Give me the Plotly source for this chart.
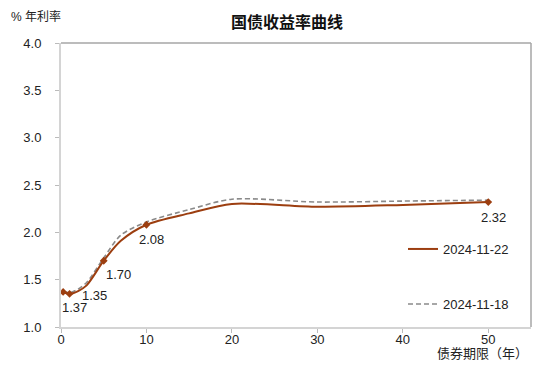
import plotly.graph_objects as go

# ---- data ----
tenors = [0.25, 1, 2, 3, 5, 7, 10, 15, 20, 30, 40, 50]
yield_1122 = [1.37, 1.35, 1.38, 1.44, 1.70, 1.91, 2.08, 2.20, 2.30, 2.27, 2.29, 2.32]
yield_1118 = [1.38, 1.36, 1.40, 1.47, 1.73, 1.97, 2.11, 2.24, 2.35, 2.32, 2.33, 2.34]
label_tenors = [0.25, 1, 5, 10, 50]
series_names = ["2024-11-22", "2024-11-18"]
y_ticks = [1.0, 1.5, 2.0, 2.5, 3.0, 3.5, 4.0]
x_ticks = [0, 10, 20, 30, 40, 50]
title_text = "国债收益率曲线"
y_title = "% 年利率"
x_title = "债券期限（年）"

FONT = "Arial, Liberation Sans, Noto Sans CJK SC, sans-serif"
BROWN = "#9C3E10"
GRAY = "#8A8A8A"

# the page body has an 8px default margin; size the figure to fit the window
W, H = 542, 365

mark_x = [t for t in label_tenors]
mark_y = [yield_1122[tenors.index(t)] for t in label_tenors]

fig = go.Figure()
fig.add_trace(go.Scatter(
    x=tenors, y=yield_1118, mode="lines", name=series_names[1],
    line=dict(color=GRAY, width=1.6, dash="5px,3px", shape="spline", smoothing=0.8),
    legend="legend2",
))
fig.add_trace(go.Scatter(
    x=tenors, y=yield_1122, mode="lines", name=series_names[0],
    line=dict(color=BROWN, width=2, shape="spline", smoothing=0.8),
    legend="legend",
))
fig.add_trace(go.Scatter(
    x=mark_x, y=mark_y, mode="markers", showlegend=False,
    marker=dict(symbol="diamond", size=6, color=BROWN),
    hoverinfo="skip",
))

# value labels
offsets = [(11, -16), (25, -2), (15, -14), (5, -15), (5, -15)]
for (xv, yv), (dx, dy) in zip(zip(mark_x, mark_y), offsets):
    fig.add_annotation(x=xv, y=yv, text=f"{yv:.2f}", showarrow=False,
                       xshift=dx, yshift=dy, xanchor="center", yanchor="middle",
                       font=dict(family=FONT, size=13, color="#222222"))

# axis titles
fig.add_annotation(xref="paper", yref="paper", x=-0.1106, y=1.095, text=y_title,
                   showarrow=False, xanchor="left", yanchor="middle",
                   font=dict(family=FONT, size=12, color="#222222"))
fig.add_annotation(xref="paper", yref="paper", x=0.998, y=-0.095, text=x_title,
                   showarrow=False, xanchor="right", yanchor="middle",
                   font=dict(family=FONT, size=13, color="#222222"))

# top/right frame
fig.add_shape(type="line", xref="x domain", yref="y domain", x0=0, x1=1, y0=1, y1=1,
              line=dict(color="#A6A6A6", width=1.5))
fig.add_shape(type="line", xref="x domain", yref="y domain", x0=1, x1=1, y0=0, y1=1,
              line=dict(color="#A6A6A6", width=1.5))

fig.update_layout(
    width=W, height=H,
    margin=dict(l=53, r=19, t=35, b=46, autoexpand=False),
    paper_bgcolor="white", plot_bgcolor="white",
    font=dict(family=FONT, size=12, color="#222222"),
    title=dict(text=f"<b>{title_text}</b>", x=279/W, xanchor="center", xref="container",
               y=1-14/H, yanchor="middle", yref="container",
               font=dict(family=FONT, size=16, color="#111111")),
    xaxis=dict(range=[0, 55], tickvals=x_ticks, showgrid=False, zeroline=False,
               showline=True, linecolor="#D4D4D4", linewidth=2,
               ticks="outside", ticklen=4, tickcolor="#BBBBBB", ticklabelstandoff=-5,
               tickfont=dict(family=FONT, size=13, color="#222222")),
    yaxis=dict(range=[1.0, 4.0], tickvals=y_ticks, tickformat=".1f", showgrid=False,
               zeroline=False, showline=True, linecolor="#D4D4D4", linewidth=2,
               ticks="outside", ticklen=4, tickcolor="#BBBBBB", ticklabelstandoff=11,
               tickfont=dict(family=FONT, size=13, color="#222222")),
    legend=dict(x=(403-61)/470, y=(249-327)/-284, xanchor="left", yanchor="middle",
                bgcolor="rgba(0,0,0,0)", font=dict(family=FONT, size=13, color="#222222")),
    legend2=dict(x=(403-61)/470, y=(304-327)/-284, xanchor="left", yanchor="middle",
                 bgcolor="rgba(0,0,0,0)", font=dict(family=FONT, size=13, color="#222222")),
)

fig.write_html("out.html")
